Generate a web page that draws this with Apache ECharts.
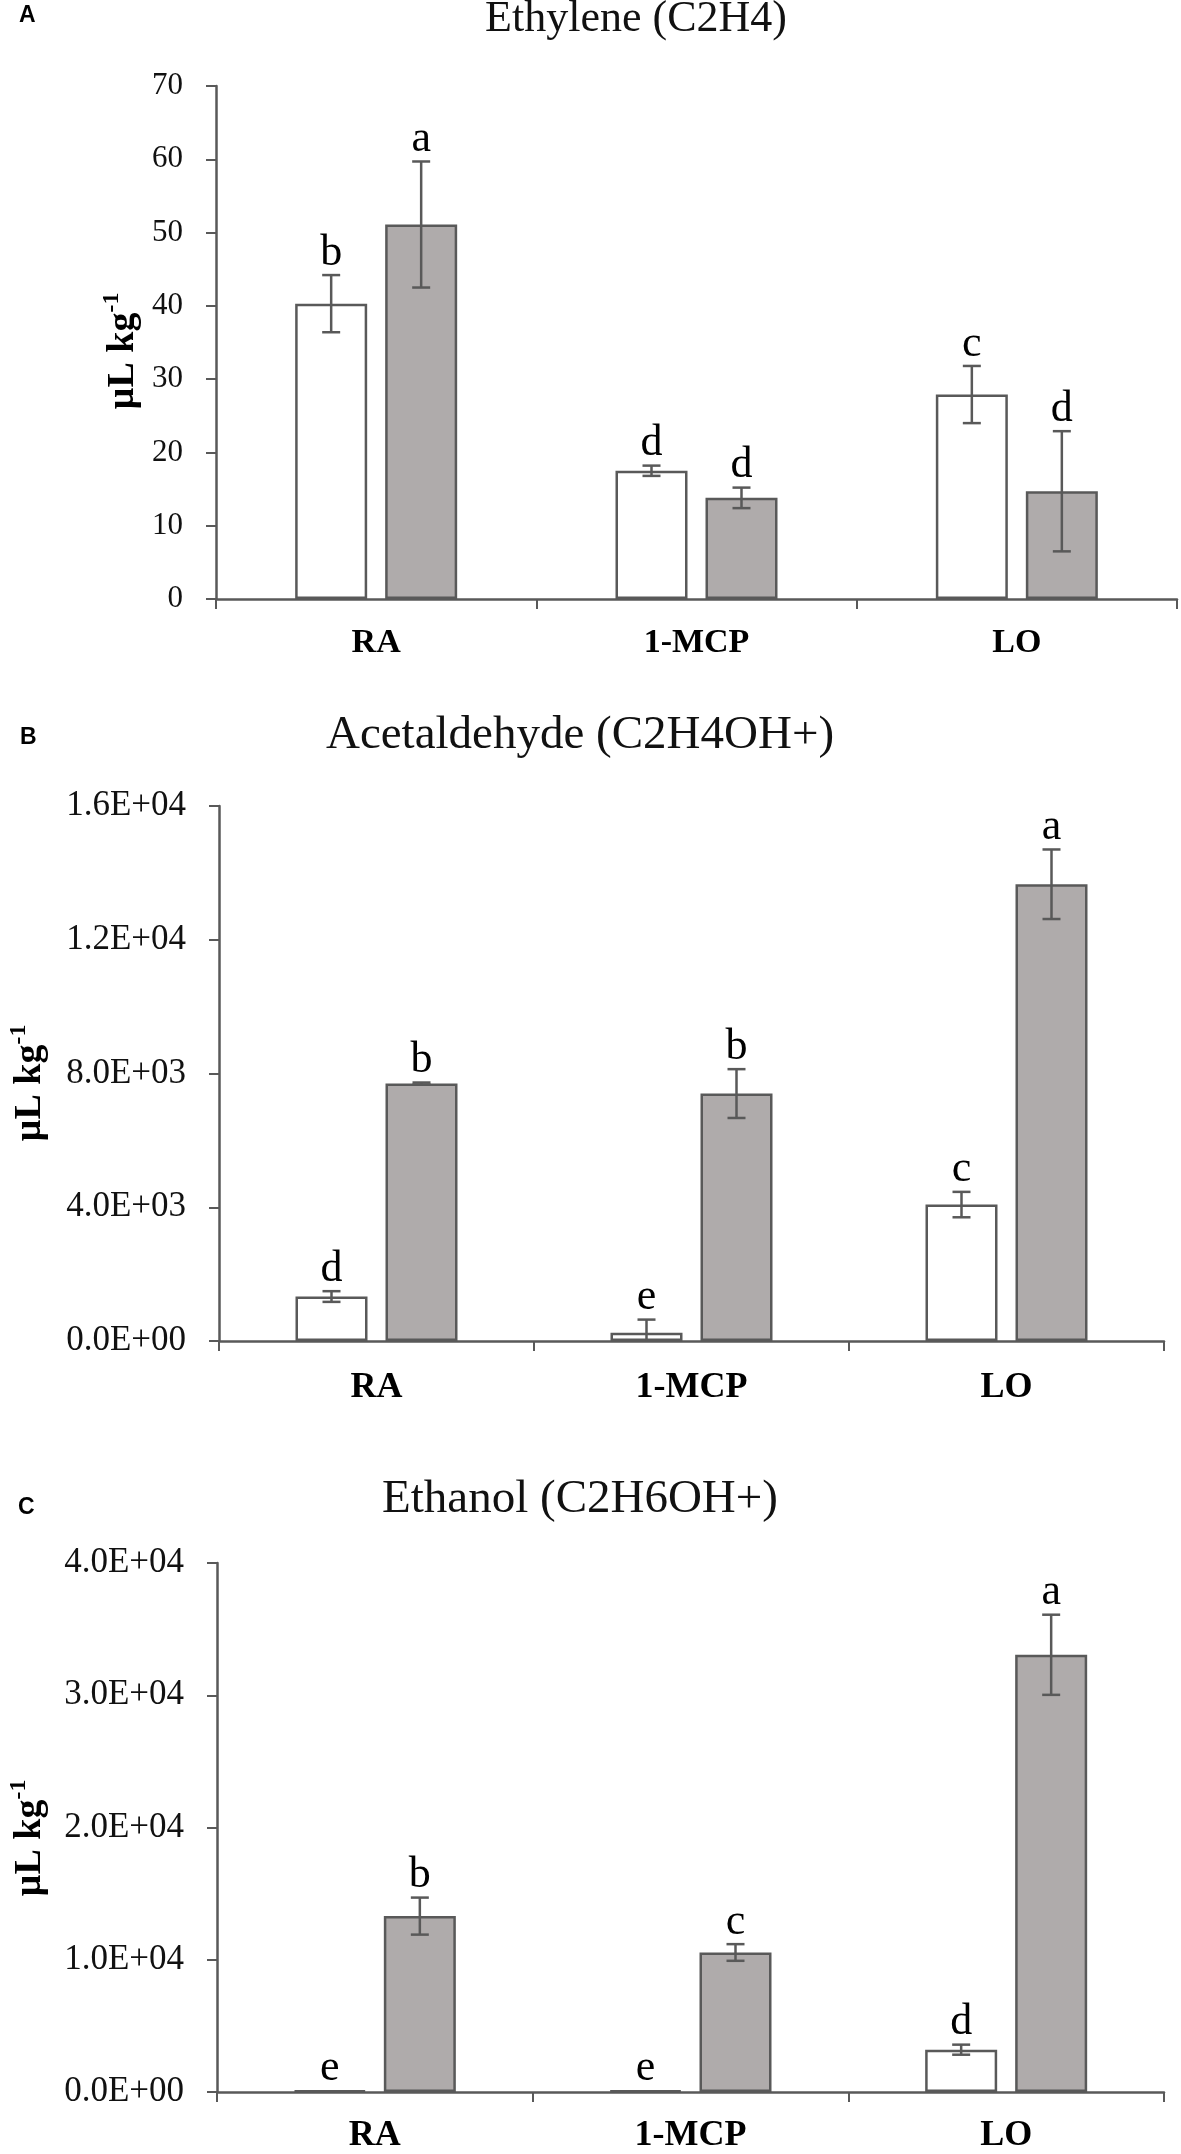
<!DOCTYPE html>
<html><head><meta charset="utf-8">
<script src="https://cdn.jsdelivr.net/npm/echarts@6/dist/echarts.min.js"></script>
<style>html,body{margin:0;padding:0;background:#fff}#c{width:1181px;height:2154px}</style>
</head><body><div id="c"></div>
<script>
// ---------- DATA ----------
const categories = ['RA', '1-MCP', 'LO'];

// Panel A: Ethylene (C2H4)
const ethWhite = [40.3, 17.5, 27.9];
const ethWhiteErr = [3.9, 0.7, 3.9];
const ethGray = [51.1, 13.8, 14.7];
const ethGrayErr = [8.6, 1.4, 8.2];
const ethWhiteLetters = ['b', 'd', 'c'];
const ethGrayLetters = ['a', 'd', 'd'];
const ethTicks = ['0', '10', '20', '30', '40', '50', '60', '70'];

// Panel B: Acetaldehyde (C2H4OH+)
const aceWhite = [1330, 250, 4080];
const aceWhiteErr = [160, 390, 380];
const aceGray = [7700, 7400, 13660];
const aceGrayErr = [30, 730, 1040];
const aceWhiteLetters = ['d', 'e', 'c'];
const aceGrayLetters = ['b', 'b', 'a'];
const aceTicks = ['0.0E+00', '4.0E+03', '8.0E+03', '1.2E+04', '1.6E+04'];

// Panel C: Ethanol (C2H6OH+)
const ethoWhite = [100, 100, 3200];
const ethoWhiteErr = [0, 0, 380];
const ethoGray = [13300, 10550, 33060];
const ethoGrayErr = [1400, 630, 3030];
const ethoWhiteLetters = ['e', 'e', 'd'];
const ethoGrayLetters = ['b', 'c', 'a'];
const ethoTicks = ['0.0E+00', '1.0E+04', '2.0E+04', '3.0E+04', '4.0E+04'];

const titles = ['Ethylene (C2H4)', 'Acetaldehyde (C2H4OH+)', 'Ethanol (C2H6OH+)'];
const panelLetters = ['A', 'B', 'C'];

// ---------- STYLE ----------
const SERIF = "'Liberation Serif','Times New Roman',serif";
const SANS = "'Liberation Sans',Arial,sans-serif";
const LINE = '#595959';
const GRAY = '#AFABAB';
const BAR_W = 72;
const BAR_GAP = 0.25;
const OFFSET = (BAR_W + BAR_W * BAR_GAP) / 2;

const panels = [
  { white: ethWhite, whiteErr: ethWhiteErr, gray: ethGray, grayErr: ethGrayErr,
    wl: ethWhiteLetters, gl: ethGrayLetters, ticks: ethTicks, interval: 10,
    grid: { left: 216, top: 86, right: 4, height: 513 }, tickFont: 31, catFont: 34, catMargin: 27,
    titleFont: 44, title: [636, 19], letter: [19, 16], yname: [121, 351] },
  { white: aceWhite, whiteErr: aceWhiteErr, gray: aceGray, grayErr: aceGrayErr,
    wl: aceWhiteLetters, gl: aceGrayLetters, ticks: aceTicks, interval: 4000,
    grid: { left: 219, top: 806, right: 17, height: 535 }, tickFont: 35, catFont: 36, catMargin: 29,
    titleFont: 47, title: [580, 736], letter: [20, 738], yname: [28, 1083] },
  { white: ethoWhite, whiteErr: ethoWhiteErr, gray: ethoGray, grayErr: ethoGrayErr,
    wl: ethoWhiteLetters, gl: ethoGrayLetters, ticks: ethoTicks, interval: 10000,
    grid: { left: 217, top: 1563, right: 17, height: 534 }, tickFont: 35, catFont: 36, catMargin: 26,
    titleFont: 47, title: [580, 1500], letter: [18, 1508], yname: [28, 1838] }
];

function errSeries(gi, vals, errs, letters, side) {
  return {
    type: 'custom', xAxisIndex: gi, yAxisIndex: gi, z: 5, clip: false,
    data: vals.map((v, i) => [i, v, errs[i]]),
    renderItem(params, api) {
      const i = api.value(0), v = api.value(1), e = api.value(2);
      const base = api.coord([i, v]);
      const x = base[0] + side * OFFSET;
      const yTop = api.coord([i, v + e])[1];
      const lo = v - e;
      const yBot = api.coord([i, Math.max(lo, 0)])[1];
      const st = { stroke: LINE, lineWidth: 2.5 };
      const ch = [];
      if (e > 0) {
        ch.push({ type: 'line', shape: { x1: x, y1: yTop, x2: x, y2: yBot }, style: st });
        ch.push({ type: 'line', shape: { x1: x - 9, y1: yTop, x2: x + 9, y2: yTop }, style: st });
        if (lo >= 0) ch.push({ type: 'line', shape: { x1: x - 9, y1: yBot, x2: x + 9, y2: yBot }, style: st });
      }
      ch.push({ type: 'text', x: x, y: yTop - 22,
        style: { text: letters[params.dataIndex], fontFamily: SERIF, fontSize: 44,
          fill: '#000', align: 'center', verticalAlign: 'middle' } });
      return { type: 'group', children: ch };
    }
  };
}

const grids = [], xAxes = [], yAxes = [], series = [], graphics = [];
panels.forEach((p, gi) => {
  grids.push(p.grid);
  xAxes.push({
    type: 'category', gridIndex: gi, data: categories,
    axisLine: { show: true, lineStyle: { color: LINE, width: 2.5 } },
    axisTick: { show: true, length: 10, alignWithLabel: false, lineStyle: { color: LINE, width: 2 } },
    axisLabel: { fontFamily: SERIF, fontWeight: 'bold', fontSize: p.catFont, color: '#000', margin: p.catMargin },
    splitLine: { show: false }
  });
  const max = p.interval * (p.ticks.length - 1);
  yAxes.push({
    type: 'value', gridIndex: gi, min: 0, max: max, interval: p.interval,
    axisLine: { show: true, lineStyle: { color: LINE, width: 2.5 } },
    axisTick: { show: true, length: 10, lineStyle: { color: LINE, width: 2 } },
    axisLabel: { fontFamily: SERIF, fontSize: p.tickFont, color: '#111', margin: 33,
      formatter: (val) => p.ticks[Math.round(val / p.interval)] },
    splitLine: { show: false }
  });
  series.push({
    type: 'bar', xAxisIndex: gi, yAxisIndex: gi, data: p.white, barWidth: BAR_W, barGap: (BAR_GAP * 100) + '%',
    itemStyle: { color: '#fff', borderColor: LINE, borderWidth: 2.5 }, z: 2
  });
  series.push({
    type: 'bar', xAxisIndex: gi, yAxisIndex: gi, data: p.gray, barWidth: BAR_W, barGap: (BAR_GAP * 100) + '%',
    itemStyle: { color: GRAY, borderColor: LINE, borderWidth: 2.5 }, z: 2
  });
  series.push(errSeries(gi, p.white, p.whiteErr, p.wl, -1));
  series.push(errSeries(gi, p.gray, p.grayErr, p.gl, 1));

  graphics.push({ type: 'text', x: p.title[0], y: p.title[1],
    style: { text: titles[gi], fontFamily: SERIF, fontSize: p.titleFont, fill: '#111', align: 'center', verticalAlign: 'middle' } });
  graphics.push({ type: 'text', x: p.letter[0], y: p.letter[1],
    style: { text: panelLetters[gi], fontFamily: SANS, fontWeight: 'bold', fontSize: 23, fill: '#000', align: 'left', verticalAlign: 'middle' } });
  graphics.push({ type: 'text', x: p.yname[0], y: p.yname[1], rotation: Math.PI / 2,
    style: { text: '{m|µL kg}{s|-1}', align: 'center', verticalAlign: 'middle',
      rich: {
        m: { fontFamily: SERIF, fontWeight: 'bold', fontSize: 38, fill: '#000', lineHeight: 42, verticalAlign: 'bottom' },
        s: { fontFamily: SERIF, fontWeight: 'bold', fontSize: 24, fill: '#000', lineHeight: 42, verticalAlign: 'top' }
      } } });
});

const chart = echarts.init(document.getElementById('c'));
chart.setOption({
  backgroundColor: '#fff',
  animation: false,
  grid: grids, xAxis: xAxes, yAxis: yAxes, series: series,
  graphic: graphics
});
</script>
</body></html>
